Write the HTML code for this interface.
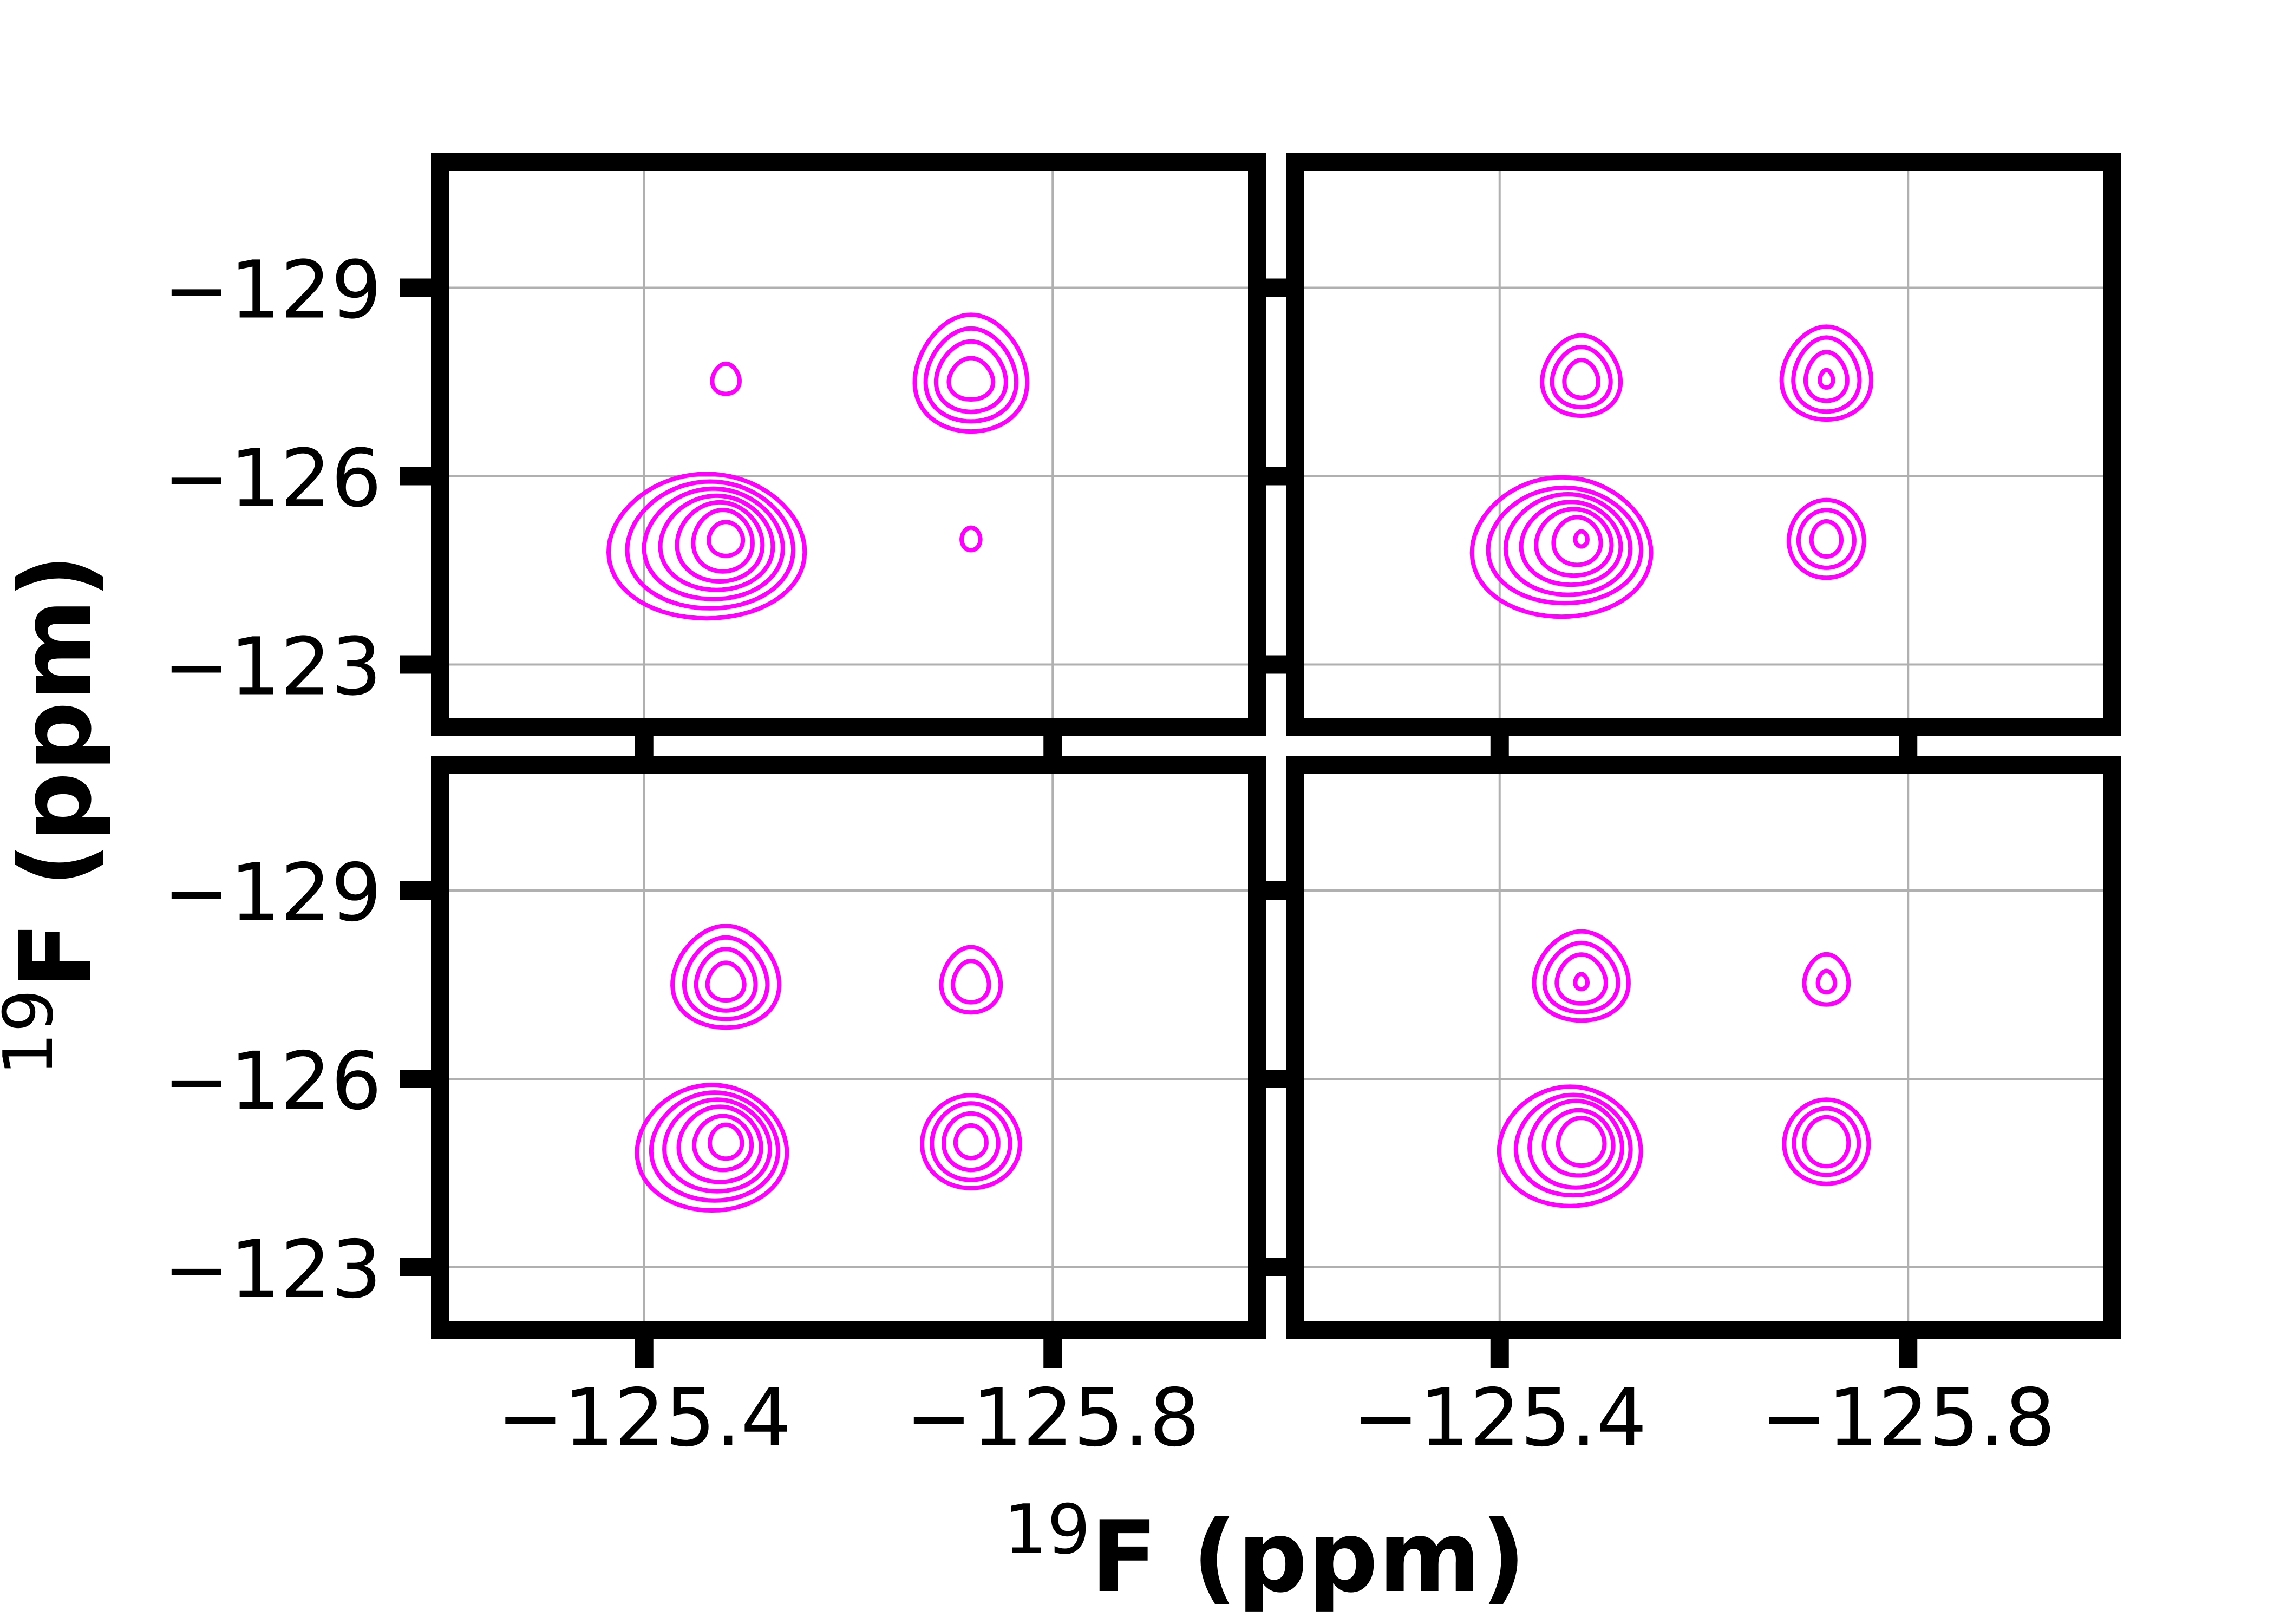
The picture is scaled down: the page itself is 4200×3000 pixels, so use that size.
<!DOCTYPE html>
<html><head><meta charset="utf-8"><style>
html,body{margin:0;padding:0;background:#fff;}
svg{display:block;}
text{font-family:"DejaVu Sans","Liberation Sans",sans-serif;}
</style></head>
<body>
<svg id="fig" width="4200" height="3000" viewBox="0 0 4200 3000" xmlns="http://www.w3.org/2000/svg">
<rect width="4200" height="3000" fill="#fff"/>
</svg>
<script>
// ---- data ----
const xTicks = [-125.4, -125.8];
const xTickLabels = ["\u2212125.4", "\u2212125.8"];
const yTicks = [-129, -126, -123];
const yTickLabels = ["\u2212129", "\u2212126", "\u2212123"];
const xRange = [-125.2, -126.0];
const yRange = [-131.0, -122.0];
const peakX = [-125.48, -125.72, -125.48, -125.72];
const peakY = [-127.55, -127.55, -125.0, -125.0];
// contour half-widths (ppm, F2) per panel -> per peak [UL, UR, LL, LR]
const hwTL = [[0.0154], [0.0632,0.0510,0.0393,0.0249], [0.1035,0.0876,0.0732,0.0594,0.0451,0.0313,0.0180], [0.0096]];
const hhTL = [[0.24], [0.93,0.74,0.56,0.33], [1.15,1.01,0.88,0.75,0.63,0.49,0.27], [0.18]];
const hwTR = [[0.0441,0.0329,0.0191], [0.0504,0.0372,0.0234,0.0074], [0.0945,0.0807,0.0658,0.0525,0.0398,0.0249,0.0064], [0.0387,0.0287,0.0154]];
const hhTR = [[0.64,0.48,0.30], [0.74,0.59,0.39,0.14], [1.11,0.92,0.80,0.66,0.53,0.38,0.12], [0.62,0.46,0.28]];
const hwBL = [[0.0600,0.0467,0.0334,0.0207], [0.0334,0.0202], [0.0791,0.0669,0.0557,0.0435,0.0303,0.0170], [0.0504,0.0403,0.0281,0.0159]];
const hhBL = [[0.81,0.65,0.49,0.30], [0.52,0.33], [1.00,0.86,0.73,0.60,0.43,0.27], [0.74,0.61,0.45,0.26]];
const hwBR = [[0.0531,0.0414,0.0276,0.0069], [0.0249,0.0096], [0.0748,0.0605,0.0488,0.0366,0.0244], [0.0435,0.0334,0.0228]];
const hhBR = [[0.71,0.55,0.39,0.12], [0.40,0.17], [0.95,0.80,0.69,0.52,0.38], [0.67,0.53,0.39]];

// ---- layout ----
const NS = "http://www.w3.org/2000/svg";
const svg = document.getElementById("fig");
const panels = [
  {name:"top-left", ox:0, oy:0, hw:hwTL, hh:hhTL},
  {name:"top-right", ox:1580, oy:0, hw:hwTR, hh:hhTR},
  {name:"bottom-left", ox:0, oy:1113.5, hw:hwBL, hh:hhBL},
  {name:"bottom-right", ox:1580, oy:1113.5, hw:hwBR, hh:hhBR}
];
const L = 812.5, R = 2321.5, T = 299.5, B = 1343.5, SW = 33;
function mk(tag, attrs, parent){
  const e = document.createElementNS(NS, tag);
  for (const k in attrs) e.setAttribute(k, attrs[k]);
  (parent||svg).appendChild(e);
  return e;
}
function sx(v, p){ return p.ox + L + (v - xRange[0])/(xRange[1]-xRange[0])*(R-L); }
function sy(v, p){ return p.oy + T + (v - yRange[0])/(yRange[1]-yRange[0])*(B-T); }
const pxPerX = (R-L)/Math.abs(xRange[1]-xRange[0]);
const pxPerY = (B-T)/Math.abs(yRange[1]-yRange[0]);

function contourPath(cx, cy, rx, ry, taperTop){
  let d = "";
  for (let i = 0; i <= 72; i++) {
    const th = i/72*2*Math.PI;
    const s = Math.sin(th);
    const f = 1 - taperTop*(1 - s)/2;
    const x = cx + rx*Math.cos(th)*f;
    const y = cy + ry*s;
    d += (i ? "L" : "M") + x.toFixed(1) + " " + y.toFixed(1);
  }
  return d + "Z";
}

const defs = mk("defs", {});
panels.forEach((p, pi) => {
  const g = mk("g", {});
  
  
  const cp = mk("clipPath", {id:"clip"+pi}, defs);
  mk("rect", {x:p.ox+L, y:p.oy+T, width:R-L, height:B-T}, cp);
  const inner = mk("g", {"clip-path":"url(#clip"+pi+")"}, g);
  xTicks.forEach(v => {
    const ln = mk("line", {x1:sx(v,p), x2:sx(v,p), y1:p.oy+T, y2:p.oy+B, stroke:"#b0b0b0", "stroke-width":4}, inner);
    
    
  });
  yTicks.forEach(v => {
    const ln = mk("line", {y1:sy(v,p), y2:sy(v,p), x1:p.ox+L, x2:p.ox+R, stroke:"#b0b0b0", "stroke-width":4}, inner);
    
    
  });
  for (let k = 0; k < 4; k++) {
    const cx = sx(peakX[k], p), cy = sy(peakY[k], p);
    const ws = p.hw[k], hs = p.hh[k];
    const w0 = ws[ws.length-1]*pxPerX, h0 = hs[hs.length-1]*pxPerY;
    for (let c = 0; c < ws.length; c++) {
      const rx = ws[c]*pxPerX, ry = hs[c]*pxPerY;
      let dx = 0, dy = 0, taper = 0.1;
      if (k === 2) { dx = -0.22*(rx-w0); dy = 0.13*(ry-h0); taper = 0.15; }
      if (k === 0 || k === 1) { dy = -0.15*(ry-h0); taper = 0.28; }
      const el = mk("path", {d:contourPath(cx+dx, cy+dy, rx, ry, taper), fill:"none", stroke:"#ff00ff", "stroke-width":8, "stroke-linejoin":"round"}, inner);
      
      
    }
  }
  const sp = mk("rect", {x:p.ox+L, y:p.oy+T, width:R-L, height:B-T, fill:"none", stroke:"#000", "stroke-width":SW}, g);
  
  
  yTicks.forEach((v, i) => {
    const t = mk("rect", {x:p.ox+L-SW/2-57, y:sy(v,p)-17, width:57, height:34, fill:"#000"}, g);
    
    
    if (p.ox === 0) {
      const tx = mk("text", {x:705, y:sy(v,p)+55, "font-size":147, "text-anchor":"end", fill:"#000"}, g);
      tx.textContent = yTickLabels[i];
      
      
    }
  });
  xTicks.forEach((v, i) => {
    const t = mk("rect", {x:sx(v,p)-17, y:p.oy+B+SW/2, width:34, height:54, fill:"#000"}, g);
    
    
    if (p.oy > 0) {
      const tx = mk("text", {x:sx(v,p), y:2670, "font-size":147, "text-anchor":"middle", fill:"#000"}, g);
      tx.textContent = xTickLabels[i];
      
      
    }
  });
});

const xl = mk("text", {x:2336, y:2939, "text-anchor":"middle", "font-size":182, "font-weight":"bold"});
xl.innerHTML = '<tspan font-size="126" font-weight="normal" dy="-70">19</tspan><tspan dy="70">F (ppm)</tspan>';


const yl = mk("text", {transform:"translate(166,1505) rotate(-90)", "text-anchor":"middle", "font-size":182, "font-weight":"bold"});
yl.innerHTML = '<tspan font-size="126" font-weight="normal" dy="-70">19</tspan><tspan dy="70">F (ppm)</tspan>';


</script>
</body></html>
